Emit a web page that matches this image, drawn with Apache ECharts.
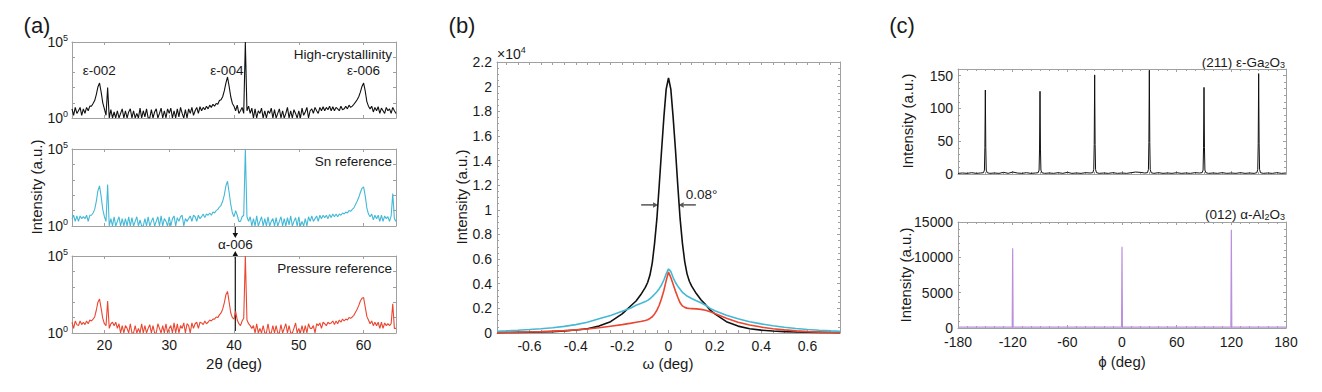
<!DOCTYPE html>
<html><head><meta charset="utf-8">
<script src="https://cdn.jsdelivr.net/npm/echarts@6/dist/echarts.min.js"></script>
<style>html,body{margin:0;padding:0;background:#fff}#c{width:1322px;height:392px}</style>
</head><body><div id="c"></div>
<script>
// ---------------- Panel (a): 2theta scans (log intensity) ----------------
const twoThetaStart = 15, twoThetaStep = 0.25;
const twoThetaTicks = [20, 30, 40, 50, 60];
const highCrystallinity = [
4,1.5,5,2, 3,5,1.5,4, 2,5,3,6, 6,9,14,35, 110,200,50,10, 4,1.5,100,1,
3.5,1,2.5,1, 3,1,2,4, 1,3,1,2.5, 4,1,3,1, 2,1,4.5,1, 3,1.2,4,1,
1,3.5,1,2.5, 4,1,2,4.5, 1,3,1,4, 2,4.5,1,3, 1,4,1.2,5, 2,1,3.5,1,
4,2,5,1.5, 3,5,2,5.5, 3,5,3.5,6, 4,7,5,8, 6,9,8,14, 16,25,60,200,
500,120,25,9, 6,3,7,2, 3,5,2,100000, 3,6,2,4.5, 1,4,1,3, 2,4.5,1,3,
1,3,2,4.5, 1,3.5,1,2, 4,1,3,1, 2,5,1,3, 1,3.5,2,1, 3,1,4.5,1.5,
2.5,5,1,3, 4,2,5,3, 2,5,3,5.5, 3,5,3.5,6, 3,5.5,3,5, 4,3,6,3.5,
4,6,4,7, 5,6,8,11, 16,25,50,120, 200,60,12,6, 4,6,2.5,5, 3,5.5,2,4.5,
3,2,5,3, 4,2,5,3, 2];
const snReference = [
3,5,2,4.5, 2,4.5,3,4, 3,5,2,5, 5,7,12,40, 200,400,80,12, 4,2,500,1,
3,1,4,1, 2,4,1,3, 1,3,1,4, 1,3.5,1,2, 4,1,2.5,1, 1,3,1,4,
1,2,3.5,1, 2,4,1,4.5, 1,3,2,1, 4,1,3,4.5, 1,3.5,2,4, 5,1,3,2,
3,4.5,2,5, 4,2,5,3, 4,6,3.5,6, 5,7,5,8, 7,10,12,17, 22,40,100,400,
800,150,25,7, 4,10,5,2, 2,4,5,100000, 4,2,4,1, 3,1,4.5,1, 2,4,1,3,
1,4,1,2, 3,1,3.5,1, 2,4,1,3, 1,3.5,1.2,4.5, 1,2,3.5,1, 4,1,2,1,
3,1,4,2, 4.5,2,3,4.5, 2,5,3,5, 3.5,5,3,5.5, 3.5,6,4,6, 4,6,5,7,
6,8,7,10, 9,12,15,25, 40,70,150,280, 350,90,15,6, 4,6,2.5,5, 3,5,2,5,
2,4.5,3,4, 2,4.5,130,3, 2];
const pressureReference = [
5,2,6,3.5, 3,6,3.5,5, 3.5,6,4,7, 6,8,11,30, 100,160,40,9, 4,3,120,2,
4,5,3,5, 2,4,1,3, 1,3,2,1, 4,1,1,3, 1,2,1,4, 1,3,1,2,
3.5,1,3,1, 1,4,2,1, 3,1,4,1, 2,3,1,4.5, 1,4,1,3, 2,4.5,1,4,
3,1,4.5,2, 4,5,2,5, 4.5,3.5,6,4, 5,7,6,8, 8,11,10,15, 20,35,90,300,
500,100,20,10, 8,25,7,4, 3,6,9,100000, 7,4,3,2, 3,1,4,1, 2,1,3,1,
1,4,1,1, 3,1,3,1, 1,3.5,1,2, 4,1,3,1, 1,2,4.5,1, 2,1,3,1,
3,1,4,2, 2,3,1,4, 3,4.5,2,5, 4,3,5,4, 4.5,6,3.5,6, 4,7,5,8,
6,8,7,10, 9,11,14,22, 35,60,120,180, 200,50,12,7, 4,6,3,5, 3,5,2,5,
2,4.5,3,4, 3,4,80,2, 2];
const peakLabels = ['ε-002', 'ε-004', 'ε-006'];
const peakLabelPos = [19.2, 38.9, 60.0];
const peakLabelHeight = 1300;
const alpha006Pos = 40.2;
const panelANames = ['High-crystallinity', 'Sn reference', 'Pressure reference'];

// ---------------- Panel (b): omega rocking curves ----------------
const omega = [-0.74,-0.70,-0.65,-0.60,-0.55,-0.50,-0.45,-0.40,-0.35,-0.30,-0.25,-0.20,-0.18,-0.16,-0.14,-0.12,-0.10,-0.09,-0.08,-0.07,-0.06,-0.05,-0.04,-0.03,-0.02,-0.01,
  0,0.01,0.02,0.03,0.04,0.05,0.06,0.07,0.08,0.09,0.10,0.12,0.14,0.16,0.18,0.20,0.25,0.30,0.35,0.40,0.45,0.50,0.55,0.60,0.65,0.70,0.74];
const omegaHigh = [30,40,50,60,80,110,160,240,350,560,920,1550,1900,2250,2600,3100,3700,4100,4700,5700,7300,9300,12000,14800,17500,19800,
  20700,19800,17500,14900,12000,9300,7300,5800,4800,4200,3800,3200,2700,2300,1850,1550,920,560,340,230,160,110,80,60,50,40,30];
const omegaSn = [140,170,220,280,350,430,540,680,880,1150,1420,1770,1900,2050,2250,2400,2550,2650,2780,2950,3150,3350,3600,3900,4300,4800,
  5200,5000,4500,4100,3800,3550,3300,3150,3000,2900,2800,2620,2450,2250,2000,1800,1450,1150,920,740,590,470,370,290,220,170,140];
const omegaPressure = [20,40,60,80,110,150,190,250,330,420,550,680,740,800,870,940,1020,1080,1180,1320,1550,1850,2250,2800,3450,4250,
  4950,4500,3950,3400,2900,2450,2200,2080,2020,1990,1980,1960,1920,1850,1720,1580,1200,880,650,480,350,250,170,110,70,40,20];
const omegaTickLabels = [-0.6,-0.4,-0.2,0,0.2,0.4,0.6];
const omegaTickMarks = [-0.7,-0.65,-0.6,-0.55,-0.5,-0.45,-0.4,-0.35,-0.3,-0.25,-0.2,-0.15,-0.1,-0.05,0,0.05,0.1,0.15,0.2,0.25,0.3,0.35,0.4,0.45,0.5,0.55,0.6,0.65,0.7];
const fwhmLevel = 10400, fwhmLeft = -0.045, fwhmRight = 0.044, fwhmTail = 0.118;

// ---------------- Panel (c): phi scans ----------------
const gaScan = [
[-180,1],[-175,1.5],[-170,1],[-165,2],[-160,1],[-155,1.5],
[-152,2],[-151,6],[-150.5,40],[-150,128],[-149.5,40],[-149,6],[-148,2],
[-145,1],[-140,1.5],[-135,1],[-130,2.5],[-125,1],[-120,3],[-115,1.5],[-110,1],[-105,2],[-100,1],[-95,1.5],
[-92,2],[-91,6],[-90.5,38],[-90,126],[-89.5,38],[-89,6],[-88,2],
[-85,1],[-80,1.5],[-75,1],[-70,2],[-65,1],[-60,2.5],[-55,1],[-50,1.5],[-45,1],[-40,2],[-35,1.5],
[-32,2],[-31,7],[-30.5,45],[-30,151],[-29.5,45],[-29,7],[-28,2],
[-25,1],[-20,1.5],[-15,1],[-10,2],[-5,1],[0,1.5],[5,1],[10,2],[15,3],[20,2.5],[25,1.5],
[28,2],[29,7],[29.5,48],[30,158],[30.5,48],[31,7],[32,2],
[35,1],[40,2],[45,1],[50,1.5],[55,1],[60,2],[65,1],[70,1.5],[75,1],[80,2],[85,1.5],
[88,2],[89,6],[89.5,40],[90,132],[90.5,40],[91,6],[92,2],
[95,1],[100,1.5],[105,1],[110,2],[115,1],[120,1.5],[125,1],[130,2],[135,1],[140,1.5],[145,1],
[148,2],[149,7],[149.5,46],[150,153],[150.5,46],[151,7],[152,2],
[155,1],[160,1.5],[165,1],[170,2],[175,1],[180,1.5]];
const alScan = [[-180,120],[-120.5,120],[-120,11300],[-119.5,120],[-0.5,120],[0,11500],[0.5,120],[119.5,120],[120,13900],[120.5,120],[180,120]];

// ---------------- build ----------------
const FONT = '"Liberation Sans", Arial, Helvetica, sans-serif';
const AX = '#a0a0a0', TXT = '#1a1a1a';
const grids = [
  {left:72, top:42, width:324, height:76},
  {left:72, top:149, width:324, height:77},
  {left:72, top:256, width:324, height:77},
  {left:497, top:62, width:343, height:271},
  {left:958, top:69, width:328, height:105},
  {left:958, top:222, width:328, height:106}
];
function merge(a, b) {
  const o = Array.isArray(a) ? a.slice() : Object.assign({}, a);
  for (const k in b) {
    if (b[k] && typeof b[k] === 'object' && !Array.isArray(b[k]) && a[k] && typeof a[k] === 'object') o[k] = merge(a[k], b[k]);
    else o[k] = b[k];
  }
  return o;
}
const xAxes = [], yAxes = [];
function frame(gi, xc, yc) {
  const baseAx = {
    gridIndex: gi, axisLine: {show: true, onZero: false, lineStyle: {color: AX, width: 1}},
    axisTick: {show: true, inside: true, length: 3, lineStyle: {color: AX}},
    minorTick: {lineStyle: {color: AX}, length: 2},
    splitLine: {show: false},
    axisLabel: {color: TXT, fontSize: 14, fontFamily: FONT}
  };
  const xb = merge(merge(baseAx, {type: 'value', position: 'bottom'}), xc);
  const xt = merge(xb, {position: 'top', axisLabel: {show: false}});
  const yl = merge(merge(baseAx, {type: 'value', position: 'left'}), yc);
  const yr = merge(yl, {position: 'right', axisLabel: {show: false}});
  xAxes.push(xb, xt); yAxes.push(yl, yr);
}
const logY = {type: 'log', logBase: 10, min: 1, max: 100000,
  axisLabel: {margin: 4, formatter: v => { const e = Math.round(Math.log10(v)); return (e === 0 || e === 5) ? '{b|10}{s|' + e + '}' : ''; },
    rich: {b: {fontSize: 14, color: TXT, fontFamily: FONT}, s: {fontSize: 9, color: TXT, fontFamily: FONT, padding: [0, 0, 9, 0]}}}};
const xA = {min: 15, max: 65, axisTick: {customValues: twoThetaTicks}, axisLabel: {customValues: twoThetaTicks, show: false}};
frame(0, xA, logY);
frame(1, xA, logY);
frame(2, merge(xA, {axisLabel: {show: true, margin: 5}}), logY);
frame(3, {min: -0.74, max: 0.74, axisTick: {customValues: omegaTickMarks}, axisLabel: {customValues: omegaTickLabels, margin: 6, formatter: v => v === 0 ? '0' : v.toFixed(1)}},
  {min: 0, max: 22000, interval: 2000, minorTick: {show: true, splitNumber: 4}, axisLabel: {margin: 5, formatter: v => String(+(v / 1e4).toFixed(1))}});
frame(4, {min: -180, max: 180, interval: 60, minorTick: {show: true, splitNumber: 6}, axisLabel: {show: false}},
  {min: 0, max: 160, interval: 50, minorTick: {show: true, splitNumber: 5}, axisLabel: {margin: 5, showMaxLabel: false, formatter: v => String(v)}});
frame(5, {min: -180, max: 180, interval: 60, minorTick: {show: true, splitNumber: 6}, axisLabel: {margin: 7, formatter: v => String(v)}},
  {min: 0, max: 15000, interval: 5000, minorTick: {show: true, splitNumber: 5}, axisLabel: {margin: 5, formatter: v => String(v)}});

function thetaPairs(arr) { return arr.map((v, i) => [twoThetaStart + twoThetaStep * i, v]); }
function zipPairs(xs, ys) { return xs.map((x, i) => [x, ys[i]]); }
function line(gi, data, color, width) {
  return {type: 'line', xAxisIndex: 2 * gi, yAxisIndex: 2 * gi, data, showSymbol: false, symbol: 'none',
    lineStyle: {color, width}, itemStyle: {color}, animation: false, silent: true, clip: true};
}
const BLACK = '#111111', CYAN = '#44b9d6', RED = '#ea4630', PURPLE = '#bb90dc';
const series = [
  line(0, thetaPairs(highCrystallinity), BLACK, 1.1),
  line(1, thetaPairs(snReference), CYAN, 1.1),
  line(2, thetaPairs(pressureReference), RED, 1.1),
  line(3, zipPairs(omega, omegaHigh), BLACK, 1.6),
  line(3, zipPairs(omega, omegaSn), CYAN, 1.6),
  line(3, zipPairs(omega, omegaPressure), RED, 1.6),
  line(4, gaScan, BLACK, 1),
  line(5, alScan, PURPLE, 1.2)
];

const chart = echarts.init(document.getElementById('c'), null, {renderer: 'svg', width: 1322, height: 392});
chart.setOption({animation: false, grid: grids.map(g => Object.assign({containLabel: false}, g)), xAxis: xAxes, yAxis: yAxes, series});

function px(gi, pt) { return chart.convertToPixel({xAxisIndex: 2 * gi, yAxisIndex: 2 * gi}, pt); }
function txt(x, y, text, size, align, extra) {
  return {type: 'text', x, y, silent: true, style: Object.assign({text, fontSize: size, fontFamily: FONT, fill: TXT, align: align || 'center', verticalAlign: 'middle'}, extra || {})};
}
function arrow(x1, y1, x2, y2, color, w, head) {
  const a = Math.atan2(y2 - y1, x2 - x1), h = head, s = head * 0.55;
  const bx = x2 - h * Math.cos(a), by = y2 - h * Math.sin(a);
  return [
    {type: 'line', silent: true, shape: {x1, y1, x2: bx, y2: by}, style: {stroke: color, lineWidth: w}},
    {type: 'polygon', silent: true, shape: {points: [[x2, y2], [bx + s * Math.sin(a), by - s * Math.cos(a)], [bx - s * Math.sin(a), by + s * Math.cos(a)]]}, style: {fill: color}}
  ];
}
function vtxt(x, y, text) { const t = txt(x, y, text, 15); t.rotation = Math.PI / 2; return t; }
const g = [];
// panel letters
g.push(txt(37, 25, '(a)', 22), txt(462, 25, '(b)', 22), txt(902, 25, '(c)', 22));
// panel (a)
panelANames.forEach((n, i) => { const gr = grids[i]; g.push(txt(gr.left + gr.width - 4, gr.top + 12, n, 13.5, 'right')); });
peakLabels.forEach((t, i) => { const p = px(0, [peakLabelPos[i], peakLabelHeight]); g.push(txt(p[0], p[1], t, 13.5)); });
{
  const d0 = px(1, [alpha006Pos, 1]);
  g.push(...arrow(d0[0], d0[1], d0[0], d0[1] + 12, '#111', 1.2, 5));
  const u0 = px(2, [alpha006Pos, 1]);
  const uTop = px(2, [alpha006Pos, 100000]);
  g.push(...arrow(u0[0], u0[1] - 2, u0[0], uTop[1] - 5, '#111', 1.2, 5));
  g.push(txt(d0[0], d0[1] + 18, 'α-006', 13.5));
}
g.push(vtxt(36, 187, 'Intensity (a.u.)'));
g.push(txt(234, 363, '2θ (deg)', 15));
// panel (b)
g.push({type: 'text', x: 497, y: 54, silent: true, style: {text: '×10{s|4}', fontSize: 14, fontFamily: FONT, fill: TXT, align: 'left', verticalAlign: 'middle',
  rich: {s: {fontSize: 9, fontFamily: FONT, fill: TXT, padding: [0, 0, 8, 0]}}}});
{
  const l1 = px(3, [-fwhmTail, fwhmLevel]), l2 = px(3, [fwhmLeft, fwhmLevel]);
  const r1 = px(3, [fwhmTail, fwhmLevel]), r2 = px(3, [fwhmRight, fwhmLevel]);
  g.push(...arrow(l1[0], l1[1], l2[0], l2[1], '#555', 1.5, 5));
  g.push(...arrow(r1[0], r1[1], r2[0], r2[1], '#555', 1.5, 5));
  g.push(txt(r2[0] + 7, l1[1] - 10, '0.08°', 13.5, 'left'));
}
g.push(vtxt(461, 197, 'Intensity (a.u.)'));
g.push(txt(668, 363, 'ω (deg)', 15));
// panel (c)
g.push({type: 'text', x: 1285, y: 62, silent: true, style: {text: '(211) ε-Ga{s|2}O{s|3}', fontSize: 13.5, fontFamily: FONT, fill: TXT, align: 'right', verticalAlign: 'middle',
  rich: {s: {fontSize: 9, fontFamily: FONT, fill: TXT, padding: [6, 0, 0, 0]}}}});
g.push({type: 'text', x: 1285, y: 214, silent: true, style: {text: '(012) α-Al{s|2}O{s|3}', fontSize: 13.5, fontFamily: FONT, fill: TXT, align: 'right', verticalAlign: 'middle',
  rich: {s: {fontSize: 9, fontFamily: FONT, fill: TXT, padding: [6, 0, 0, 0]}}}});
g.push(vtxt(907, 121, 'Intensity (a.u.)'));
g.push(vtxt(905, 275, 'Intensity (a.u.)'));
g.push(txt(1122, 361, 'ϕ (deg)', 15));
chart.setOption({graphic: {elements: g}});
</script></body></html>
